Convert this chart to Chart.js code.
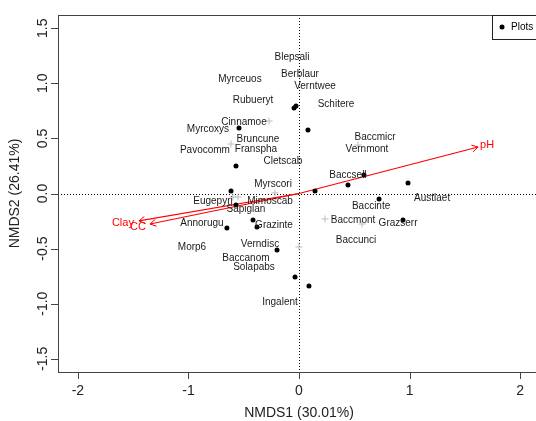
<!DOCTYPE html>
<html>
<head>
<meta charset="utf-8">
<script src="https://cdn.jsdelivr.net/npm/chart.js@4"></script>
<style>
  html, body { margin: 0; padding: 0; background: #fff; overflow: hidden; }
  #wrap { width: 548px; height: 421px; }
</style>
</head>
<body>
<div id="wrap"><canvas id="nmds" width="548" height="421"></canvas></div>
<script>
// Site scores (black dots)
const plotX = [-0.045, -0.027, -0.543, 0.081, -0.570, -0.615, -0.570, 0.145, 0.588, 0.443,
               0.986, 0.724, 0.941, -0.416, -0.380, -0.652, -0.199, -0.036, 0.090];
const plotY = [0.776, 0.794, 0.594, 0.576, 0.250, 0.023, -0.104, 0.023, 0.168, 0.077,
               0.095, -0.050, -0.240, -0.240, -0.304, -0.313, -0.513, -0.758, -0.839];

// Species scores (grey crosses)
const sppX = [-0.271, -0.615, 0.534, -0.597, -0.552, -0.217, 0.235, 0.570, 0.000];
const sppY = [0.658, 0.449, 0.440, -0.032, -0.032, 0.005, -0.231, -0.277, -0.485];

// Species labels
const labelNames = ['Blepsali', 'Berblaur', 'Verntwee', 'Myrceuos', 'Rubueryt', 'Schitere',
  'Cinnamoe', 'Myrcoxys', 'Bruncune', 'Pavocomm', 'Franspha', 'Cletscab', 'Baccmicr',
  'Vernmont', 'Baccsell', 'Myrscori', 'Eugepyri', 'Mimoscab', 'Sapiglan', 'Austlaet',
  'Baccinte', 'Baccmont', 'Grazserr', 'Annorugu', 'Grazinte', 'Baccunci', 'Morp6',
  'Verndisc', 'Baccanom', 'Solapabs', 'Ingalent'];
const labelX = [-0.063, 0.009, 0.145, -0.534, -0.416, 0.335, -0.498, -0.824, -0.371, -0.851,
  -0.389, -0.145, 0.688, 0.615, 0.443, -0.235, -0.778, -0.262, -0.480, 1.204, 0.652, 0.489,
  0.896, -0.878, -0.226, 0.516, -0.968, -0.353, -0.480, -0.407, -0.172];
const labelY = [1.239, 1.084, 0.975, 1.039, 0.848, 0.812, 0.649, 0.585, 0.495, 0.395,
  0.404, 0.295, 0.513, 0.404, 0.168, 0.086, -0.068, -0.068, -0.141, -0.041, -0.113, -0.240,
  -0.268, -0.268, -0.286, -0.422, -0.485, -0.458, -0.585, -0.667, -0.985];

// Environmental vectors
const envNames = ['pH', 'Clay', 'CC'];
const envX = [1.620, -1.448, -1.348];
const envY = [0.422, -0.249, -0.277];
const envLabelX = [1.701, -1.593, -1.457];
const envLabelY = [0.440, -0.268, -0.304];

// Axis ticks
const xTicks = [-2, -1, 0, 1, 2];
const yTicks = [-1.5, -1.0, -0.5, 0.0, 0.5, 1.0, 1.5];
const xTitle = 'NMDS1 (30.01%)';
const yTitle = 'NMDS2 (26.41%)';

const FONT = "'Liberation Sans', Arial, Helvetica, sans-serif";

// Draw frame, ticks, zero lines, arrowheads, labels and legend
const ordiPlugin = {
  id: 'ordi',
  beforeDatasetsDraw(chart) {
    const { ctx, chartArea: a, scales: { x, y } } = chart;
    ctx.save();
    ctx.strokeStyle = '#000';
    ctx.lineWidth = 1;
    ctx.setLineDash([1, 2]);
    const x0 = Math.round(x.getPixelForValue(0)) + 0.5;
    const y0 = Math.round(y.getPixelForValue(0)) + 0.5;
    ctx.beginPath();
    ctx.moveTo(x0, a.top); ctx.lineTo(x0, a.bottom);
    ctx.moveTo(a.left, y0); ctx.lineTo(a.right, y0);
    ctx.stroke();
    ctx.restore();
  },
  afterDatasetsDraw(chart) {
    const { ctx, chartArea: a, scales: { x, y } } = chart;
    ctx.save();

    // arrow heads
    ctx.strokeStyle = '#ff0000';
    ctx.lineWidth = 1;
    envNames.forEach((n, i) => {
      const px = x.getPixelForValue(envX[i]), py = y.getPixelForValue(envY[i]);
      const ox = x.getPixelForValue(0), oy = y.getPixelForValue(0);
      const ang = Math.atan2(py - oy, px - ox);
      const len = 7, spread = Math.PI / 6;
      ctx.beginPath();
      ctx.moveTo(px - len * Math.cos(ang - spread), py - len * Math.sin(ang - spread));
      ctx.lineTo(px, py);
      ctx.lineTo(px - len * Math.cos(ang + spread), py - len * Math.sin(ang + spread));
      ctx.stroke();
    });

    // env labels
    ctx.fillStyle = '#ff0000';
    ctx.font = '11px ' + FONT;
    ctx.textAlign = 'center';
    ctx.textBaseline = 'middle';
    envNames.forEach((n, i) => {
      ctx.fillText(n, x.getPixelForValue(envLabelX[i]), y.getPixelForValue(envLabelY[i]));
    });

    // species labels
    ctx.fillStyle = '#1a1a1a';
    ctx.font = '10px ' + FONT;
    labelNames.forEach((n, i) => {
      ctx.fillText(n, x.getPixelForValue(labelX[i]), y.getPixelForValue(labelY[i]));
    });

    // frame
    ctx.strokeStyle = '#444';
    ctx.lineWidth = 1;
    ctx.strokeRect(a.left + 0.5, a.top + 0.5, a.right - a.left, a.bottom - a.top);

    // ticks and tick labels
    ctx.fillStyle = '#222';
    ctx.font = '14px ' + FONT;
    ctx.beginPath();
    xTicks.forEach(t => {
      const px = Math.round(x.getPixelForValue(t)) + 0.5;
      ctx.moveTo(px, a.bottom); ctx.lineTo(px, a.bottom + 7);
    });
    yTicks.forEach(t => {
      const py = Math.round(y.getPixelForValue(t)) + 0.5;
      ctx.moveTo(a.left, py); ctx.lineTo(a.left - 7, py);
    });
    ctx.stroke();
    ctx.textAlign = 'center';
    ctx.textBaseline = 'middle';
    xTicks.forEach(t => {
      ctx.fillText(String(t), x.getPixelForValue(t), a.bottom + 19);
    });
    yTicks.forEach(t => {
      ctx.save();
      ctx.translate(a.left - 15, y.getPixelForValue(t));
      ctx.rotate(-Math.PI / 2);
      ctx.fillText(t.toFixed(1), 0, 0);
      ctx.restore();
    });

    // axis titles
    ctx.fillText(xTitle, (x.getPixelForValue(0)), a.bottom + 41);
    ctx.save();
    ctx.translate(15, y.getPixelForValue(0));
    ctx.rotate(-Math.PI / 2);
    ctx.fillText(yTitle, 0, 0);
    ctx.restore();

    // legend
    const lx = 492, ly = a.top;
    ctx.fillStyle = '#fff';
    ctx.fillRect(lx, ly, 60, 24);
    ctx.strokeStyle = '#222';
    ctx.strokeRect(lx + 0.5, ly + 0.5, 60, 24);
    ctx.fillStyle = '#000';
    ctx.beginPath();
    ctx.arc(lx + 10, ly + 12, 2.5, 0, Math.PI * 2);
    ctx.fill();
    ctx.font = '10px ' + FONT;
    ctx.textAlign = 'left';
    ctx.fillText(chart.data.datasets[0].label, lx + 19, ly + 12.5);

    ctx.restore();
  }
};

const envDatasets = envNames.map((n, i) => ({
  label: n,
  type: 'line',
  data: [{ x: 0, y: 0 }, { x: envX[i], y: envY[i] }],
  borderColor: '#ff0000',
  borderWidth: 1.2,
  pointRadius: 0,
  fill: false
}));

new Chart(document.getElementById('nmds'), {
  type: 'scatter',
  data: {
    datasets: [
      {
        label: 'Plots',
        data: plotX.map((v, i) => ({ x: v, y: plotY[i] })),
        backgroundColor: '#000',
        borderColor: '#000',
        pointRadius: 2.5,
        pointBorderWidth: 0
      },
      {
        label: 'Species',
        data: sppX.map((v, i) => ({ x: v, y: sppY[i] })),
        pointStyle: 'cross',
        borderColor: '#bdbdbd',
        pointRadius: 3.5,
        pointBorderWidth: 1
      },
      ...envDatasets
    ]
  },
  options: {
    responsive: false,
    animation: false,
    layout: { padding: { left: 58, right: 8, top: 15, bottom: 49 } },
    scales: {
      x: { type: 'linear', min: -2.18, max: 2.18, display: false },
      y: { type: 'linear', min: -1.62, max: 1.62, display: false }
    },
    plugins: {
      legend: { display: false },
      tooltip: { enabled: false }
    }
  },
  plugins: [ordiPlugin]
});
</script>
</body>
</html>
